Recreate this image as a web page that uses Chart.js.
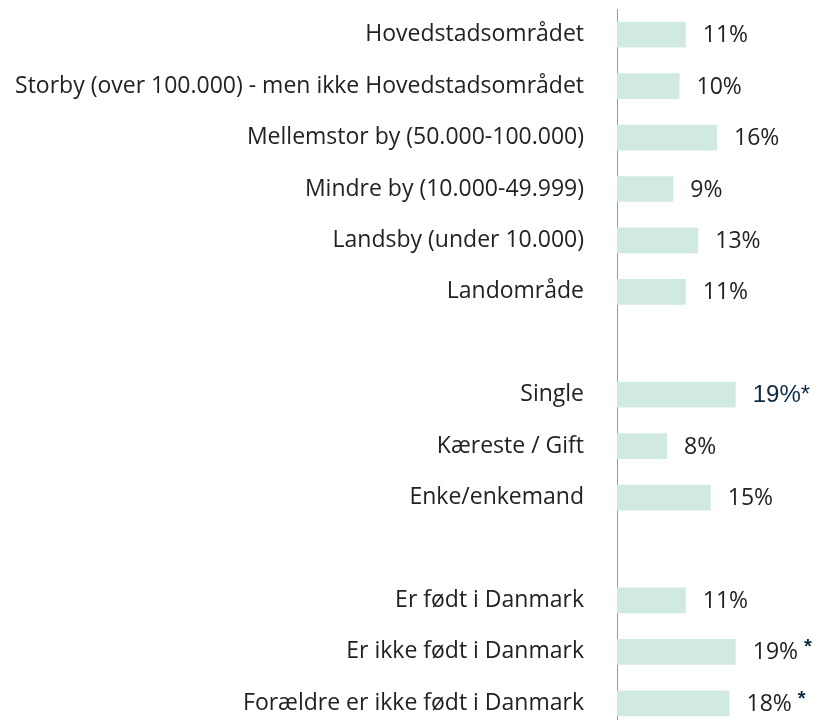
<!DOCTYPE html>
<html>
<head>
<meta charset="utf-8">
<script src="https://cdn.jsdelivr.net/npm/chart.js@4"></script>
<style>
  html, body { margin: 0; padding: 0; background: #fff; overflow: hidden; }
  canvas { display: block; }
</style>
</head>
<body>
<canvas id="chart" width="817" height="730"></canvas>
<script>
const labels = [
  'Hovedstadsområdet',
  'Storby (over 100.000) - men ikke Hovedstadsområdet',
  'Mellemstor by (50.000-100.000)',
  'Mindre by (10.000-49.999)',
  'Landsby (under 10.000)',
  'Landområde',
  '',
  'Single',
  'Kæreste / Gift',
  'Enke/enkemand',
  '',
  'Er født i Danmark',
  'Er ikke født i Danmark',
  'Forældre er ikke født i Danmark',
];

const values = [11, 10, 16, 9, 13, 11, null, 19, 8, 15, null, 11, 19, 18];

// significance marks shown after the value
const marks = ['', '', '', '', '', '', '', '*', '', '', '', '', '*', '*'];

const labelFont = '"Open Sans", sans-serif';

const valueLabels = {
  id: 'valueLabels',
  afterDatasetsDraw(chart) {
    const ctx = chart.ctx;
    const meta = chart.getDatasetMeta(0);
    ctx.save();
    ctx.textBaseline = 'middle';
    ctx.textAlign = 'left';
    meta.data.forEach((bar, i) => {
      if (values[i] == null) return;
      const x = bar.x + 17;
      const y = bar.y + 1;
      const txt = values[i] + '%';
      if (labels[i] === 'Single') {
        // this one is set in a different font in the original
        ctx.font = '24px Arial, "Liberation Sans", sans-serif';
        ctx.fillStyle = '#0e2b46';
        ctx.fillText(txt + marks[i], x, y);
        return;
      }
      ctx.font = '23px ' + labelFont;
      ctx.fillStyle = '#222';
      ctx.fillText(txt, x, y);
      if (marks[i]) {
        const w = ctx.measureText(txt).width;
        ctx.font = 'bold 20px Arial, "Liberation Sans", sans-serif';
        ctx.fillStyle = '#0e2b46';
        ctx.fillText(marks[i], x + w + 6, y - 5);
      }
    });
    ctx.restore();
  }
};

new Chart(document.getElementById('chart'), {
  type: 'bar',
  data: {
    labels: labels,
    datasets: [{
      data: values,
      backgroundColor: '#d0e9e1',
      borderWidth: 0,
      barPercentage: 0.5,
      categoryPercentage: 1,
    }]
  },
  options: {
    indexAxis: 'y',
    responsive: false,
    animation: false,
    layout: { padding: { top: 9, bottom: 1, left: 0, right: 0 } },
    plugins: {
      legend: { display: false },
      tooltip: { enabled: false },
    },
    scales: {
      x: {
        display: false,
        min: 0,
        max: 32,
      },
      y: {
        afterFit(scale) {
          scale.width = 617;
          // no extra room above/below for the label padding
          scale.paddingTop = 0;
          scale.paddingBottom = 0;
        },
        grid: { display: false, drawTicks: false },
        border: { display: true, color: '#9a9a9a', width: 1 },
        ticks: {
          padding: 33,
          color: '#222',
          font: { family: labelFont, size: 23 },
        },
      },
    },
  },
  plugins: [valueLabels],
});
</script>
</body>
</html>
